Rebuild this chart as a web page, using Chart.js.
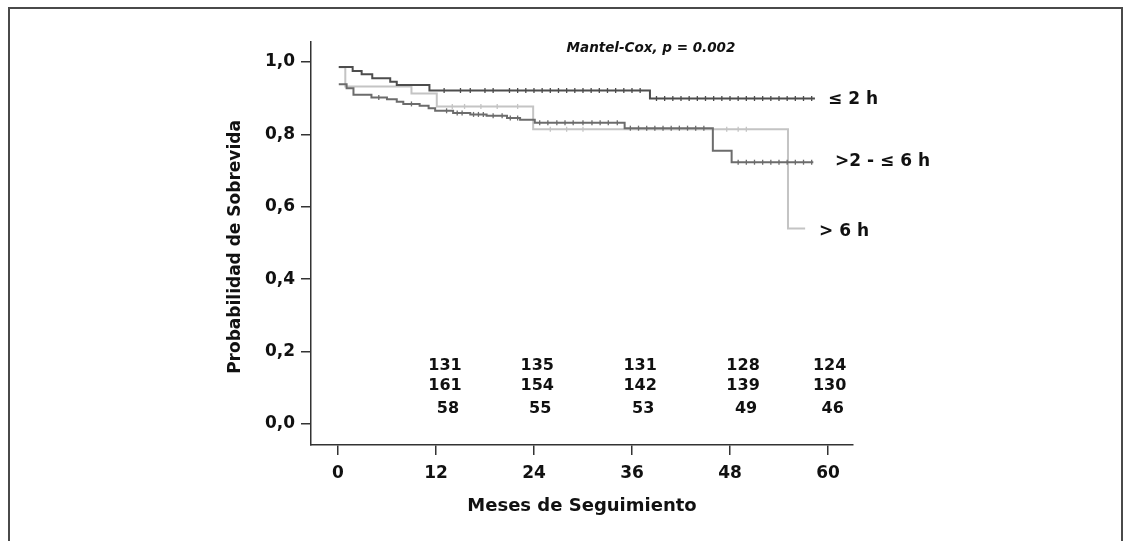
<!DOCTYPE html>
<html>
<head>
<meta charset="utf-8">
<script src="https://cdn.jsdelivr.net/npm/chart.js@4.4.1/dist/chart.umd.min.js"></script>
<style>
  html, body { margin: 0; padding: 0; background: #fff; }
  #wrap { position: relative; width: 1130px; height: 541px; overflow: hidden; }
  #frame { position: absolute; left: 8px; top: 7px; width: 1115px; height: 620px;
           border: 2px solid #4a4a4a; box-sizing: border-box; }
  canvas { position: absolute; left: 0; top: 0; }
</style>
</head>
<body>
<div id="wrap">
  <div id="frame"></div>
  <canvas id="km" width="1130" height="541"></canvas>
</div>
<script>
// axis ticks
const xTicks = [0, 12, 24, 36, 48, 60];
const xTickLabels = ['0', '12', '24', '36', '48', '60'];
const yTicks = [0, 0.2, 0.4, 0.6, 0.8, 1.0];
const yTickLabels = ['0,0', '0,2', '0,4', '0,6', '0,8', '1,0'];

// Kaplan-Meier steps (time in months, survival from that time on)
const le2Times = [0.1, 1.8, 2.9, 4.2, 6.4, 7.2, 11.2, 38.2, 58.4];
const le2Surv  = [0.986, 0.975, 0.966, 0.955, 0.945, 0.936, 0.921, 0.899, 0.899];
const le2Censor = [13, 15, 16.2, 18, 19, 21, 22, 23, 24, 25, 26, 27, 28, 29, 30, 31, 32, 33, 34, 35, 36, 37,
                   39, 40, 41, 42, 43, 44, 45, 46, 47, 48, 49, 50, 51, 52, 53, 54, 55, 56, 57, 58];

const mid2to6Times = [0.1, 1.06, 1.9, 4.1, 6.0, 7.2, 8.0, 10.0, 11.1, 11.9, 14.1, 16.2, 18.2, 20.7, 22.3, 24.1, 35.1, 45.9, 48.2, 58.2];
const mid2to6Surv  = [0.938, 0.927, 0.909, 0.902, 0.897, 0.890, 0.884, 0.879, 0.872, 0.865, 0.859, 0.855, 0.851, 0.845, 0.840, 0.832, 0.817, 0.755, 0.723, 0.723];
const mid2to6Censor = [5, 9, 13.3, 14.6, 15.2, 16.6, 17.2, 17.8, 19, 20.1, 21.1, 22, 24.7, 25.7, 26.8, 27.8, 28.8,
                       30, 31.1, 32.1, 33.1, 34.2, 35.8, 36.8, 37.8, 38.8, 39.8, 40.8, 41.8, 42.8, 43.8, 44.8,
                       49, 50, 51, 52, 53, 54, 55, 56, 57, 58];

const gt6Times = [0.1, 0.9, 9.0, 12.1, 23.9, 55.1, 57.2];
const gt6Surv  = [0.985, 0.932, 0.913, 0.877, 0.814, 0.54, 0.54];
const gt6Censor = [14, 15.5, 17.5, 19.5, 22, 26, 28, 30, 47.6, 49, 50];

// numbers at risk at each column
const riskLe2 = [131, 135, 131, 128, 124];
const risk2to6 = [161, 154, 142, 139, 130];
const riskGt6 = [58, 55, 53, 49, 46];

const colLe2 = '#4d4d4d';
const col2to6 = '#6c6c6c';
const colGt6 = '#c4c4c4';

const FONT = '"DejaVu Sans", sans-serif';

function stepAt(times, surv, t) {
  let v = surv[0];
  for (let i = 0; i < times.length; i++) {
    if (times[i] <= t) v = surv[i];
  }
  return v;
}

function curve(times, surv) {
  return times.map((t, i) => ({ x: t, y: surv[i] }));
}

function censors(times, surv, cens) {
  return cens.map(t => ({ x: t, y: stepAt(times, surv, t) }));
}

function lineSet(times, surv, color) {
  return {
    type: 'line',
    data: curve(times, surv),
    borderColor: color,
    borderWidth: 2,
    pointRadius: 0,
    stepped: 'before',
    fill: false,
    order: 2
  };
}

function censorSet(times, surv, cens, color) {
  return {
    type: 'scatter',
    data: censors(times, surv, cens),
    borderColor: color,
    backgroundColor: color,
    pointStyle: 'line',
    rotation: 90,
    pointRadius: 2.5,
    borderWidth: 1.3,
    showLine: false,
    order: 1
  };
}

const textPlugin = {
  id: 'kmText',
  afterDraw(chart) {
    const ctx = chart.ctx;
    const xs = chart.scales.x;
    ctx.save();
    ctx.fillStyle = '#111';
    ctx.textBaseline = 'middle';

    // test result
    ctx.textAlign = 'center';
    ctx.font = 'italic bold 13.5px ' + FONT;
    ctx.fillText('Mantel-Cox, p = 0.002', 651, 48);

    // group labels
    ctx.textAlign = 'left';
    ctx.font = 'bold 17px ' + FONT;
    ctx.fillText('\u2264 2 h', 828, 100);
    ctx.fillText('>2 - \u2264 6 h', 835, 162);
    ctx.fillText('> 6 h', 819, 232);

    // numbers at risk
    const colMonths = [13.1, 24.4, 37, 49.6, 60.2];
    const rows = [[riskLe2, 366, 0], [risk2to6, 386, 0], [riskGt6, 409, 3]];
    ctx.textAlign = 'center';
    ctx.font = 'bold 16px ' + FONT;
    rows.forEach(([vals, y, dx]) => {
      vals.forEach((v, i) => {
        ctx.fillText(String(v), xs.getPixelForValue(colMonths[i]) + dx, y);
      });
    });

    // axis titles
    ctx.font = 'bold 18px ' + FONT;
    ctx.fillText('Meses de Seguimiento', (chart.chartArea.left + chart.chartArea.right) / 2, 506);

    ctx.translate(236, 247);
    ctx.rotate(-Math.PI / 2);
    ctx.font = 'bold 17px ' + FONT;
    ctx.fillText('Probabilidad de Sobrevida', 0, 0);
    ctx.restore();
  }
};

new Chart(document.getElementById('km').getContext('2d'), {
  data: {
    datasets: [
      lineSet(le2Times, le2Surv, colLe2),
      lineSet(mid2to6Times, mid2to6Surv, col2to6),
      lineSet(gt6Times, gt6Surv, colGt6),
      censorSet(le2Times, le2Surv, le2Censor, colLe2),
      censorSet(mid2to6Times, mid2to6Surv, mid2to6Censor, col2to6),
      censorSet(gt6Times, gt6Surv, gt6Censor, colGt6)
    ]
  },
  options: {
    responsive: false,
    animation: false,
    layout: { padding: { left: 0, top: 42, right: 277, bottom: 0 } },
    plugins: {
      legend: { display: false },
      tooltip: { enabled: false }
    },
    scales: {
      x: {
        type: 'linear',
        min: -3.3,
        max: 63.06,
        afterFit: s => { s.height = 96; },
        afterBuildTicks: s => { s.ticks = xTicks.map(v => ({ value: v })); },
        ticks: {
          callback: (v) => xTickLabels[xTicks.indexOf(v)],
          font: { family: FONT, size: 17, weight: 'bold' },
          color: '#111',
          padding: 8,
          maxRotation: 0
        },
        grid: { drawOnChartArea: false, drawTicks: true, tickLength: 10, color: '#333', lineWidth: 1.5 },
        border: { display: true, color: '#333', width: 1.5 }
      },
      y: {
        type: 'linear',
        min: -0.058,
        max: 1.055,
        afterFit: s => { s.width = 311; },
        afterBuildTicks: s => { s.ticks = yTicks.map(v => ({ value: v })); },
        ticks: {
          callback: (v) => yTickLabels[yTicks.indexOf(v)],
          font: { family: FONT, size: 17, weight: 'bold' },
          color: '#111',
          padding: 6
        },
        grid: { drawOnChartArea: false, drawTicks: true, tickLength: 10, color: '#333', lineWidth: 1.5 },
        border: { display: true, color: '#333', width: 1.5 }
      }
    }
  },
  plugins: [textPlugin]
});
</script>
</body>
</html>
